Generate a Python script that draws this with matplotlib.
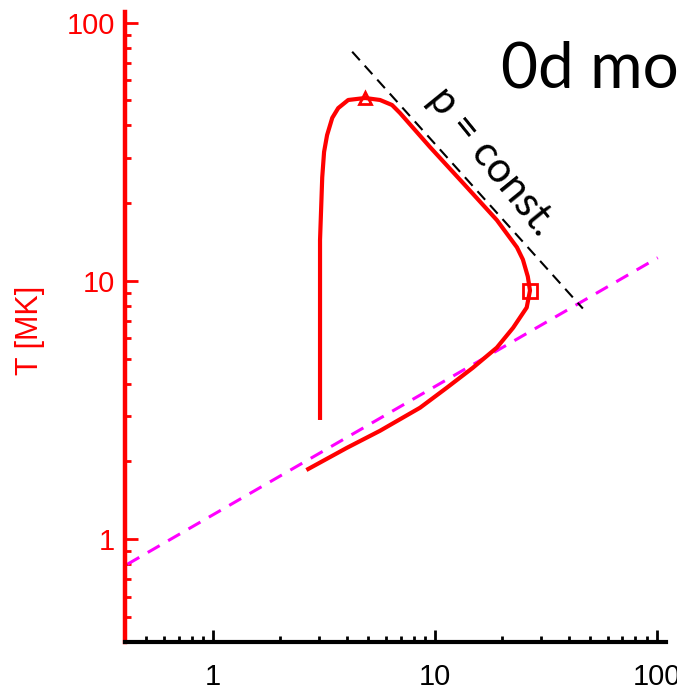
import numpy as np
import matplotlib
matplotlib.use("Agg")
import matplotlib.pyplot as plt
from matplotlib.ticker import LogLocator, NullFormatter, FixedLocator, FixedFormatter

# ---------- data ----------

# red loop: density-like x vs temperature T [MK]
loop_x = [3.03, 3.03, 3.10, 3.16, 3.26, 3.44, 3.66, 4.06, 4.84, 5.65, 6.40,
          6.95, 9.49, 13.4, 19.0, 23.4, 24.9, 26.2, 26.8, 25.9, 22.5, 19.0,
          14.8, 11.3, 8.56, 5.65, 4.01, 2.68]
loop_T = [2.95, 14.4, 25.2, 31.6, 36.7, 42.8, 46.7, 50.2, 51.1, 50.2, 48.0,
          44.7, 33.0, 23.9, 17.2, 13.5, 12.1, 10.4, 9.18, 7.89, 6.59, 5.52,
          4.61, 3.86, 3.23, 2.63, 2.26, 1.87]
peak_idx = 8      # triangle marker (max T)
turn_idx = 18     # square marker (max x)

# magenta equilibrium line
eq_x = [0.41, 101.0]
eq_T = [0.80, 12.3]

# black p = const. line
p_x = [4.23, 46.4]
p_T = [77.2, 7.82]

x_ticks = [1, 10, 100]
x_labels = ["1", "10", "100"]
y_ticks = [1, 10, 100]
y_labels = ["1", "10", "100"]

RED = "#ff0000"
MAGENTA = "#ff00ff"

# ---------- figure ----------

fig = plt.figure(figsize=(6.77, 6.94), dpi=100)
ax = fig.add_axes([125 / 677, 52 / 694, 541 / 677, 630 / 694])

ax.set_xscale("log")
ax.set_yscale("log")
ax.set_xlim(0.4, 110)
ax.set_ylim(0.4, 110)

ax.plot(eq_x, eq_T, color=MAGENTA, lw=2.2, dashes=(4.5, 3.2), zorder=2)
ax.plot(p_x, p_T, color="black", lw=1.5, dashes=(5.5, 3.5), zorder=2)
ax.plot(loop_x, loop_T, color=RED, lw=3, zorder=3, solid_joinstyle="round")
ax.plot(loop_x[peak_idx], loop_T[peak_idx], marker="^", ms=9, mfc="none",
        mec=RED, mew=2, zorder=4)
ax.plot(loop_x[turn_idx], loop_T[turn_idx], marker="s", ms=10, mfc="none",
        mec=RED, mew=2, zorder=4)

# spines: only left (red) and bottom (black)
for side in ("top", "right"):
    ax.spines[side].set_visible(False)
ax.spines["left"].set_color(RED)
ax.spines["left"].set_linewidth(3.2)
ax.spines["bottom"].set_color("black")
ax.spines["bottom"].set_linewidth(3)

ax.xaxis.set_major_locator(FixedLocator(x_ticks))
ax.xaxis.set_major_formatter(FixedFormatter(x_labels))
ax.xaxis.set_minor_locator(LogLocator(base=10, subs=np.arange(2, 10)))
ax.xaxis.set_minor_formatter(NullFormatter())
ax.yaxis.set_major_locator(FixedLocator(y_ticks))
ax.yaxis.set_major_formatter(FixedFormatter(y_labels))
ax.yaxis.set_minor_locator(LogLocator(base=10, subs=np.arange(2, 10)))
ax.yaxis.set_minor_formatter(NullFormatter())

ax.tick_params(axis="x", which="both", direction="in", colors="black",
               width=2, pad=15)
ax.tick_params(axis="y", which="both", direction="in", colors=RED,
               width=2, pad=7)
ax.tick_params(which="major", length=9)
ax.tick_params(which="minor", length=4.5)
for lab in ax.get_xticklabels() + ax.get_yticklabels():
    lab.set_fontfamily("Liberation Sans")
    lab.set_fontsize(21)

fig.text(30 / 677, 1 - 330 / 694, "T [MK]", rotation=90, color=RED,
         ha="center", va="center", fontsize=22, family="Liberation Sans")

# annotations
ax.text(18.1, 29.1, "p = const.", rotation=-51, rotation_mode="anchor",
        ha="center", va="center", fontsize=30, family="Lato", color="black")
fig.text(501 / 677, 1 - 88 / 694, "0d model", ha="left", va="baseline",
         fontsize=46, family="Lato", color="black")

fig.savefig("out.png", dpi=100)
